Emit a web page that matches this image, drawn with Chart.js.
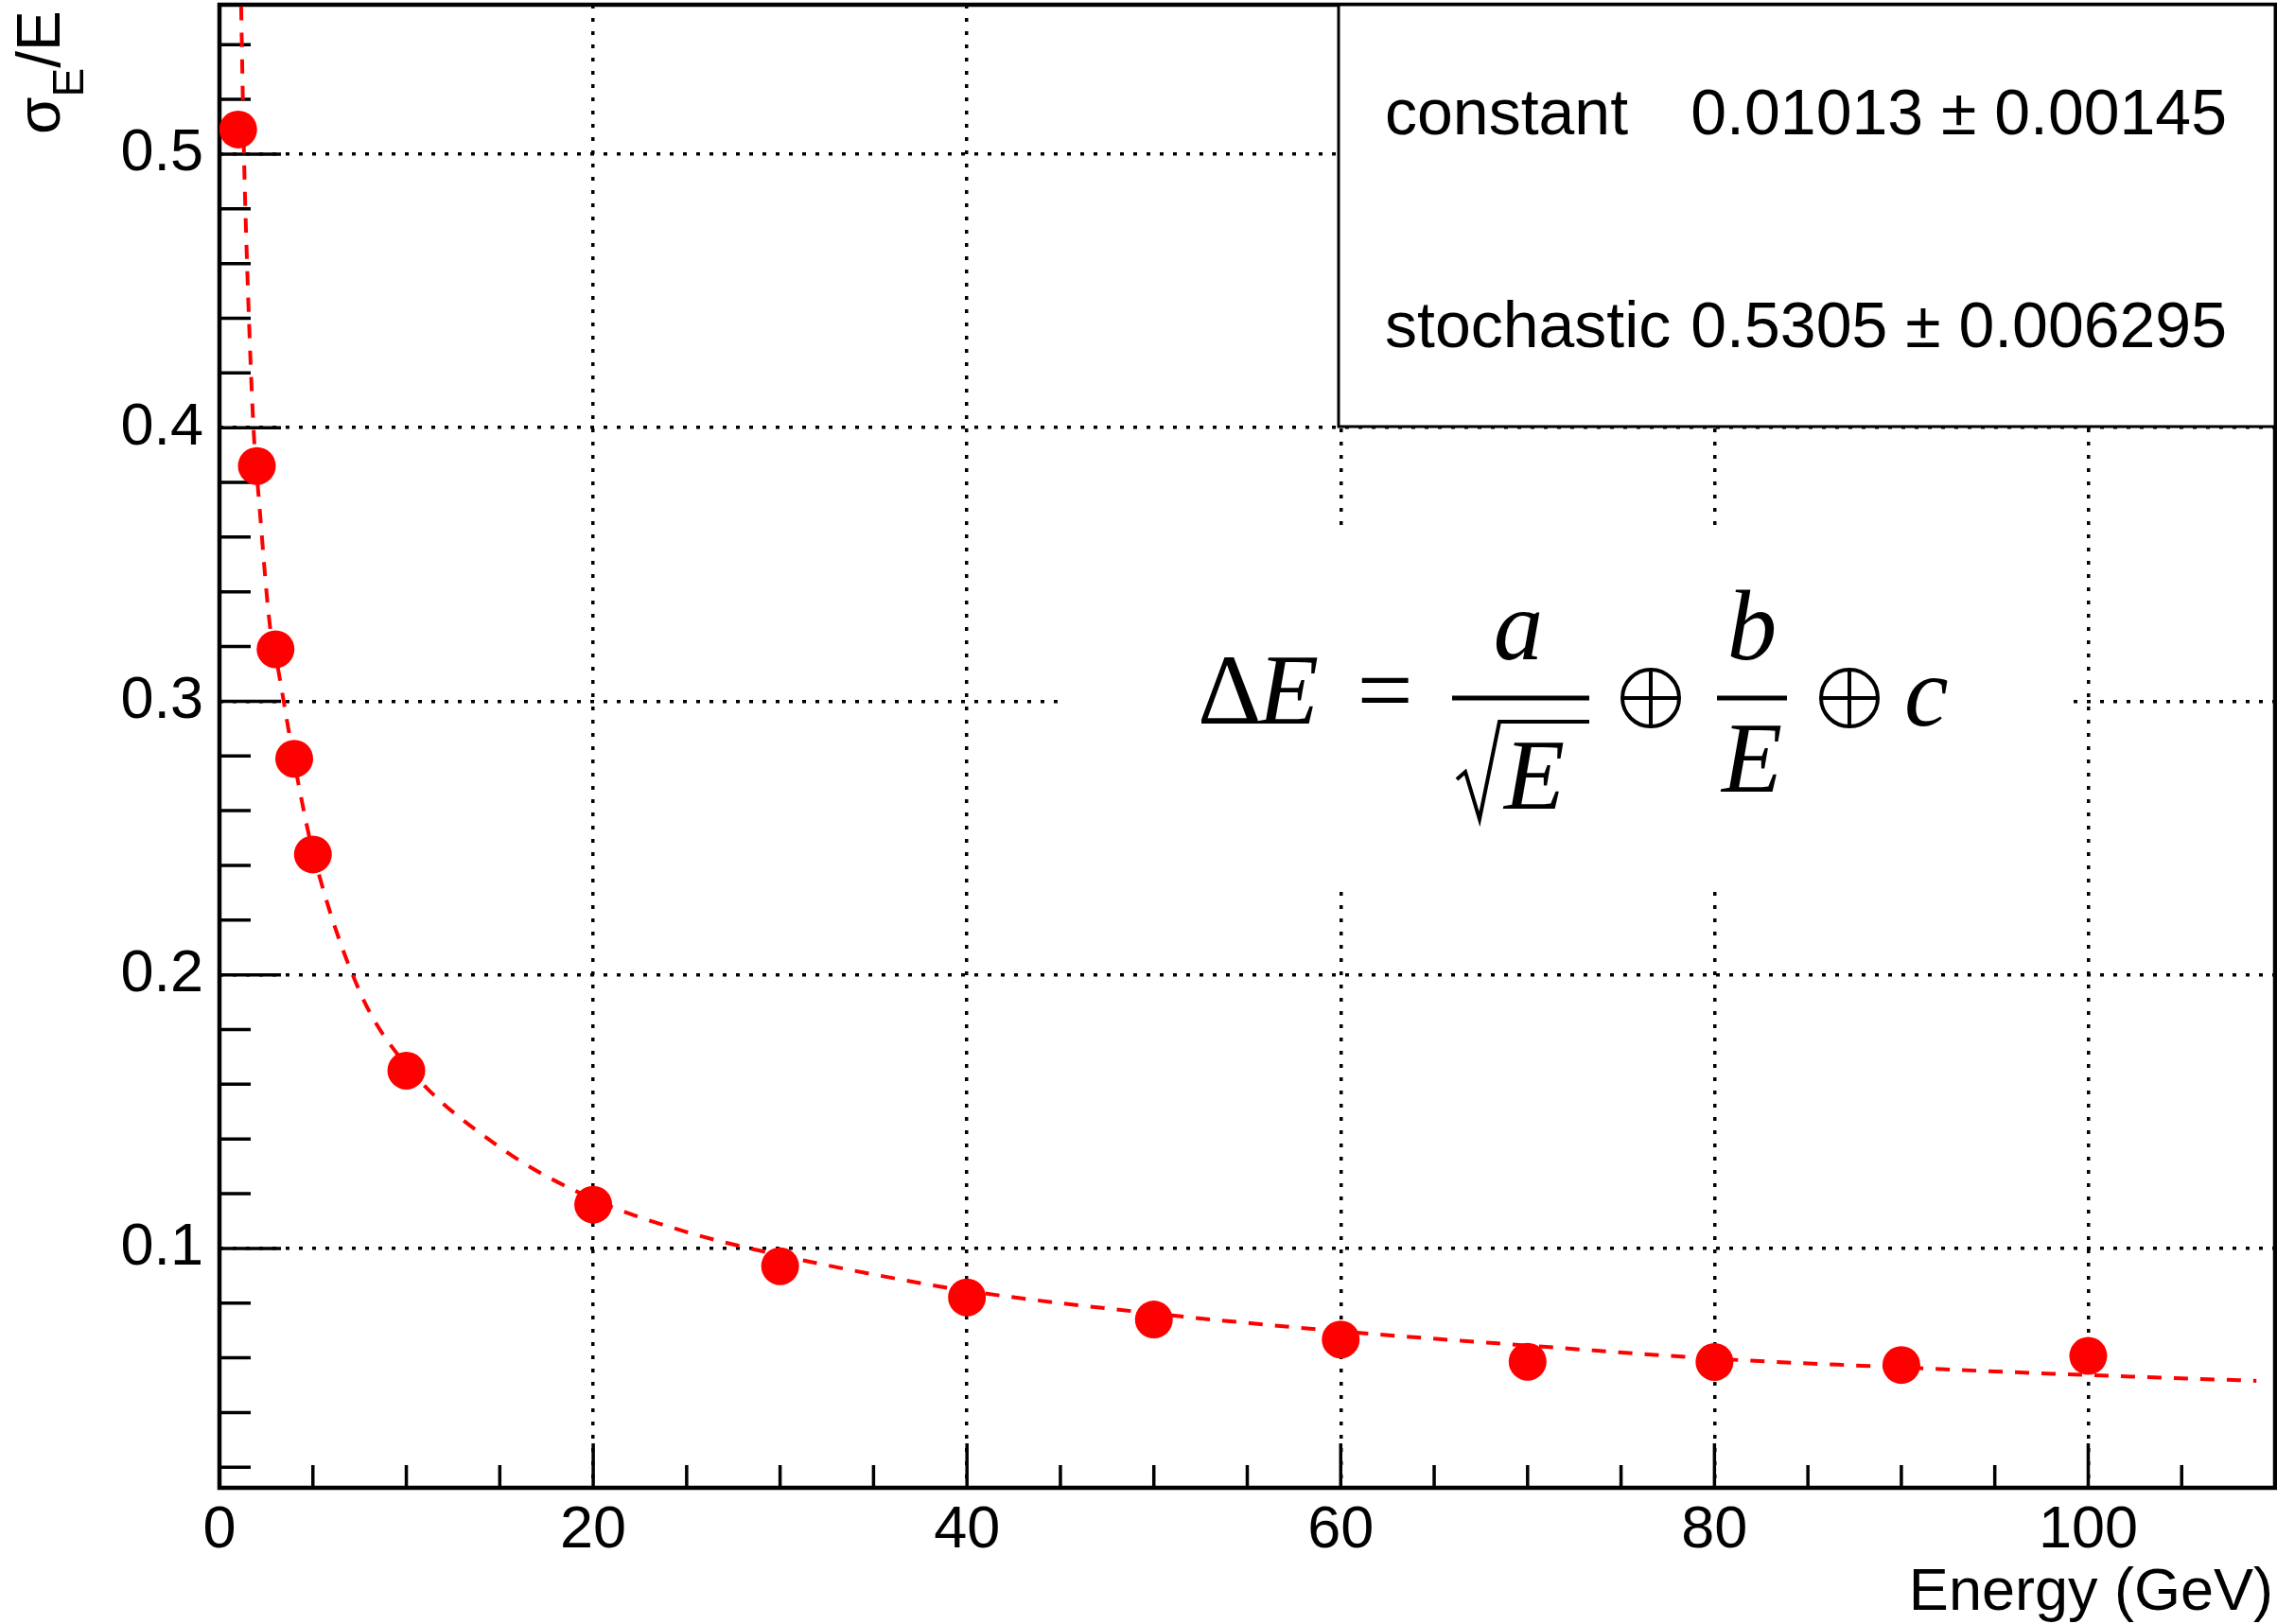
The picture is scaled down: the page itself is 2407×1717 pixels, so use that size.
<!DOCTYPE html>
<html>
<head>
<meta charset="utf-8">
<title>Energy resolution</title>
<script src="https://cdn.jsdelivr.net/npm/chart.js@4.4.0/dist/chart.umd.min.js"></script>
<style>
  html, body { margin: 0; padding: 0; background: #fff; }
  canvas { display: block; }
</style>
</head>
<body>
<canvas id="resChart" width="2407" height="1717"></canvas>
<script>
"use strict";

// DATA -----------------------
const energies = [1, 2, 3, 4, 5, 10, 20, 30, 40, 50, 60, 70, 80, 90, 100];
const resolution = [0.509, 0.386, 0.319, 0.279, 0.244, 0.165, 0.116, 0.0935, 0.0821, 0.074, 0.0667, 0.0586, 0.0585, 0.0574, 0.0607];

// fit curve
const fitEnergies = [1.16, 1.31, 1.5, 1.82, 2.12, 2.71, 3, 4, 5, 7.5, 10, 15, 20, 25, 30, 35, 40, 50, 60, 70, 80, 90, 100, 109];
const fitValues = [0.554, 0.5, 0.455, 0.4, 0.373, 0.327, 0.317, 0.278, 0.245, 0.194, 0.167, 0.137, 0.118, 0.106, 0.0975, 0.0905, 0.0845, 0.0762, 0.0697, 0.0645, 0.0597, 0.0565, 0.0537, 0.0516];

const xMajorTicks = [0, 20, 40, 60, 80, 100];
const xMinorTicks = [5, 10, 15, 25, 30, 35, 45, 50, 55, 65, 70, 75, 85, 90, 95, 105];
const yMajorTicks = [0.1, 0.2, 0.3, 0.4, 0.5];
const yMinorTicks = [0.02, 0.04, 0.06, 0.08, 0.12, 0.14, 0.16, 0.18, 0.22, 0.24, 0.26, 0.28,
  0.32, 0.34, 0.36, 0.38, 0.42, 0.44, 0.46, 0.48, 0.52, 0.54];

const fitNames = ["constant", "stochastic"];
const fitResults = ["0.01013 \u00b1 0.00145", "0.5305 \u00b1 0.006295"];

const SANS = "'Liberation Sans', Arial, Helvetica, sans-serif";
const SERIF = "'Liberation Serif', 'Times New Roman', serif";
Chart.defaults.font.family = SANS;
Chart.defaults.color = "#000";

// PLUGINS -----------------------
// inward ticks + frame, ROOT style
const rootAxes = {
  id: "rootAxes",
  beforeDatasetsDraw(chart) {
    const ctx = chart.ctx;
    const a = chart.chartArea;
    const xs = chart.scales.x, ys = chart.scales.y;
    ctx.save();
    ctx.strokeStyle = "#000";
    ctx.lineWidth = 3.5;
    ctx.beginPath();
    xMinorTicks.forEach(v => { const p = xs.getPixelForValue(v); ctx.moveTo(p, a.bottom); ctx.lineTo(p, a.bottom - 24); });
    xMajorTicks.forEach(v => { const p = xs.getPixelForValue(v); ctx.moveTo(p, a.bottom); ctx.lineTo(p, a.bottom - 47); });
    yMinorTicks.forEach(v => { const p = ys.getPixelForValue(v); ctx.moveTo(a.left, p); ctx.lineTo(a.left + 33, p); });
    yMajorTicks.forEach(v => { const p = ys.getPixelForValue(v); ctx.moveTo(a.left, p); ctx.lineTo(a.left + 65, p); });
    ctx.stroke();
    ctx.lineWidth = 4.5;
    ctx.strokeRect(a.left, a.top, a.right - a.left, a.bottom - a.top);
    ctx.restore();
  }
};

function oplus(ctx, cx, cy, r) {
  ctx.beginPath();
  ctx.arc(cx, cy, r, 0, Math.PI * 2);
  ctx.moveTo(cx - r, cy); ctx.lineTo(cx + r, cy);
  ctx.moveTo(cx, cy - r); ctx.lineTo(cx, cy + r);
  ctx.stroke();
}

const annotations = {
  id: "annotations",
  afterDraw(chart) {
    const ctx = chart.ctx;
    const a = chart.chartArea;
    ctx.save();

    // stats box
    ctx.fillStyle = "#fff";
    ctx.fillRect(1415, a.top, a.right - 1415, 451 - a.top);
    ctx.strokeStyle = "#000";
    ctx.lineWidth = 3;
    ctx.strokeRect(1415, a.top, a.right - 1415, 451 - a.top);
    ctx.fillStyle = "#000";
    ctx.font = "68px " + SANS;
    ctx.textBaseline = "alphabetic";
    const rows = [142, 367];
    fitNames.forEach((n, i) => {
      ctx.textAlign = "left";
      ctx.fillText(n, 1464, rows[i]);
      ctx.textAlign = "right";
      ctx.fillText(fitResults[i], 2354, rows[i]);
    });

    // formula, on a white patch
    ctx.fillStyle = "#fff";
    ctx.fillRect(1128, 556, 2187 - 1128, 943 - 556);
    ctx.fillStyle = "#000";
    ctx.strokeStyle = "#000";
    ctx.textAlign = "left";
    ctx.font = "105px " + SERIF;
    ctx.fillText("\u0394", 1266, 765);
    ctx.font = "italic 105px " + SERIF;
    ctx.fillText("E", 1330, 765);
    ctx.font = "105px " + SERIF;
    ctx.textAlign = "center";
    ctx.fillText("=", 1464, 765);
    ctx.lineWidth = 5;
    ctx.beginPath();
    ctx.moveTo(1535, 738); ctx.lineTo(1680, 738);
    ctx.moveTo(1815, 738); ctx.lineTo(1889, 738);
    ctx.stroke();
    ctx.font = "italic 105px " + SERIF;
    ctx.fillText("a", 1605, 697);
    ctx.fillText("b", 1852, 697);
    ctx.fillText("E", 1852, 837);
    ctx.textAlign = "left";
    ctx.fillText("E", 1590, 855);
    ctx.fillText("c", 2013, 767);
    // radical
    ctx.lineWidth = 4;
    ctx.lineJoin = "miter";
    ctx.beginPath();
    ctx.moveTo(1540, 824);
    ctx.lineTo(1549, 816);
    ctx.lineTo(1564, 866);
    ctx.lineTo(1585, 763);
    ctx.lineTo(1680, 763);
    ctx.stroke();
    ctx.lineWidth = 4;
    oplus(ctx, 1745, 738, 30);
    oplus(ctx, 1955, 738, 30);

    // axis titles
    ctx.font = "63px " + SANS;
    ctx.textAlign = "right";
    ctx.fillText("Energy (GeV)", 2403, 1702);

    ctx.translate(63, 142);
    ctx.rotate(-Math.PI / 2);
    ctx.textAlign = "left";
    let x = 0;
    ctx.font = "64px " + SANS;
    ctx.fillText("\u03c3", x, 0);
    x += ctx.measureText("\u03c3").width;
    ctx.font = "46px " + SANS;
    ctx.fillText("E", x, 25);
    x += ctx.measureText("E").width;
    ctx.font = "64px " + SANS;
    ctx.fillText("/E", x, 0);
    ctx.restore();
  }
};

// CHART -----------------------
const resChart = new Chart(document.getElementById("resChart"), {
  type: "scatter",
  data: {
    datasets: [{
      label: "fit",
      data: fitEnergies.map((e, i) => ({ x: e, y: fitValues[i] })),
      showLine: true,
      cubicInterpolationMode: "monotone",
      borderColor: "#ff0000",
      borderWidth: 4,
      borderDash: [15, 13],
      pointRadius: 0,
      order: 2
    }, {
      label: "data",
      data: energies.map((e, i) => ({ x: e, y: resolution[i] })),
      backgroundColor: "#ff0000",
      borderWidth: 0,
      pointRadius: 20,
      pointHoverRadius: 20,
      order: 1
    }]
  },
  options: {
    responsive: false,
    animation: false,
    layout: { autoPadding: false, padding: { top: 5, right: 2, left: 0, bottom: 0 } },
    plugins: { legend: { display: false }, tooltip: { enabled: false } },
    scales: {
      x: {
        type: "linear",
        min: 0,
        max: 110,
        afterFit: s => { s.height = 144; s.paddingLeft = 0; s.paddingRight = 0; },
        afterBuildTicks: s => { s.ticks = xMajorTicks.map(v => ({ value: v })); },
        grid: { color: "#000", lineWidth: 3.5, drawTicks: false },
        border: { display: false, dash: [4, 10] },
        ticks: { font: { size: 63 }, color: "#000", padding: 8, maxRotation: 0, autoSkip: false }
      },
      y: {
        type: "linear",
        min: 0.0125,
        max: 0.5546,
        afterFit: s => { s.width = 232; s.paddingTop = 0; s.paddingBottom = 0; },
        afterBuildTicks: s => { s.ticks = yMajorTicks.map(v => ({ value: v })); },
        grid: { color: "#000", lineWidth: 3.5, drawTicks: false },
        border: { display: false, dash: [4, 10] },
        ticks: { font: { size: 63 }, color: "#000", padding: 17, callback: v => v.toFixed(1) }
      }
    }
  },
  plugins: [rootAxes, annotations]
});
</script>
</body>
</html>
